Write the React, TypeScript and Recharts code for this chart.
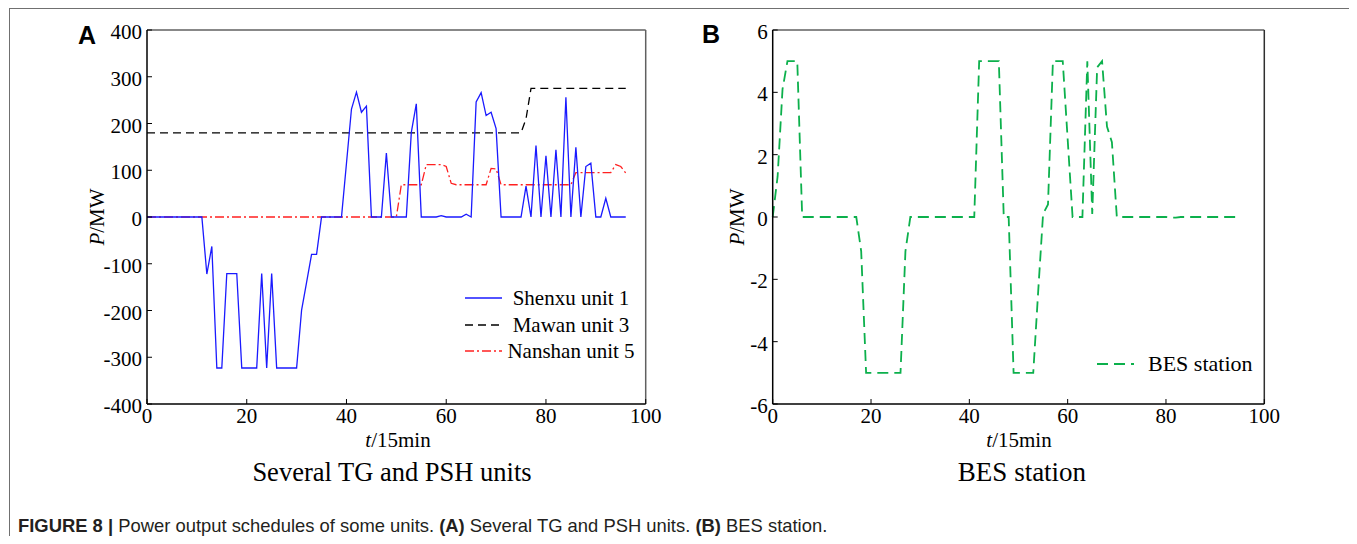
import React from 'react';
import { LineChart, Line, XAxis, YAxis, ReferenceLine } from 'recharts';

// ---------- data ----------
const shenxu = [
  0, 0, 0, 0, 0, 0, 0, 0, 0, 0, 0, 0, -122, -63, -323, -323, -121, -121, -121, -323,
  -323, -323, -323, -121, -323, -121, -323, -323, -323, -323, -323, -199, -140, -80, -80, 0, 0, 0, 0, 0,
  115, 231, 267, 224, 237, 0, 0, 0, 137, 0, 0, 0, 0, 181, 242, 0, 0, 0, 0, 3,
  0, 0, 0, 0, 6, 0, 246, 266, 217, 224, 189, 0, 0, 0, 0, 0, 66, 0, 153, 0,
  131, 0, 144, 0, 256, 0, 149, 0, 108, 115, 0, 0, 40, 0, 0, 0, 0,
];
const mawan = [
  180, 180, 180, 180, 180, 180, 180, 180, 180, 180, 180, 180, 180, 180, 180, 180, 180, 180, 180, 180,
  180, 180, 180, 180, 180, 180, 180, 180, 180, 180, 180, 180, 180, 180, 180, 180, 180, 180, 180, 180,
  180, 180, 180, 180, 180, 180, 180, 180, 180, 180, 180, 180, 180, 180, 180, 180, 180, 180, 180, 180,
  180, 180, 180, 180, 180, 180, 180, 180, 180, 180, 180, 180, 180, 180, 180, 180, 210, 275, 275, 275,
  275, 275, 275, 275, 275, 275, 275, 275, 275, 275, 275, 275, 275, 275, 275, 275, 275,
];
const nanshan = [
  0, 0, 0, 0, 0, 0, 0, 0, 0, 0, 0, 0, 0, 0, 0, 0, 0, 0, 0, 0,
  0, 0, 0, 0, 0, 0, 0, 0, 0, 0, 0, 0, 0, 0, 0, 0, 0, 0, 0, 0,
  0, 0, 0, 0, 0, 0, 0, 0, 0, 0, 0, 69, 69, 69, 69, 69, 112, 112, 112, 112,
  108, 72, 69, 69, 69, 69, 69, 69, 69, 104, 103, 69, 69, 69, 69, 69, 69, 69, 69, 69,
  69, 69, 69, 69, 69, 69, 95, 95, 95, 95, 95, 95, 95, 95, 112, 108, 94,
];
const bes = [
  0, 1.3, 4.1, 5, 5, 5, 0, 0, 0, 0, 0, 0, 0, 0, 0, 0, 0, 0, -1.1, -5,
  -5, -5, -5, -5, -5, -5, -5, -1.1, 0, 0, 0, 0, 0, 0, 0, 0, 0, 0, 0, 0,
  0, 0, 5, 5, 5, 5, 5, 0, 0, -5, -5, -5, -5, -5, -2.4, 0.1, 0.4, 5, 5, 5,
  2.5, 0, 0, 0, 5, 0.1, 4.8, 5, 2.9, 2.4, 0, 0, 0, 0, 0, 0, 0, 0, 0, 0,
  0, -0.02, -0.02, 0, 0, 0, 0, 0, 0, 0, 0, 0, 0, 0, 0, 0,
];
const xTicks = [0, 20, 40, 60, 80, 100];
const yTicksA = [-400, -300, -200, -100, 0, 100, 200, 300, 400];
const yTicksB = [-6, -4, -2, 0, 2, 4, 6];
const seriesNamesA = ['Shenxu unit 1', 'Mawan unit 3', 'Nanshan unit 5'];
const seriesNameB = 'BES station';

const rowsA = shenxu.map((v, i) => ({ t: i, shenxu: v, mawan: mawan[i], nanshan: nanshan[i] }));
const rowsB = bes.map((v, i) => ({ t: i, bes: v }));

// ---------- styles ----------
const SERIF = '"Liberation Serif", "Times New Roman", serif';
const SANS = '"Liberation Sans", Arial, sans-serif';
const TICK_IN = 5;
const MARGIN = 5;
const BLUE = '#1a1aff';
const RED = '#ff2020';
const GREEN = '#0cb04c';

const YTick = (props: any) => {
  const { x, y, payload } = props;
  const ax = x + MARGIN;
  return (
    <g>
      <line x1={ax} x2={ax + TICK_IN} y1={y} y2={y} stroke="#000" strokeWidth={1} />
      <text x={x} y={y} dy={9} textAnchor="end" fontFamily={SERIF} fontSize={21} fill="#000">
        {payload.value}
      </text>
    </g>
  );
};

const XTick = (props: any) => {
  const { x, y, payload } = props;
  const ay = y - MARGIN;
  return (
    <g>
      <line x1={x} x2={x} y1={ay} y2={ay - TICK_IN} stroke="#000" strokeWidth={1} />
      <text x={x} y={y} dy={13.5} textAnchor="middle" fontFamily={SERIF} fontSize={21} fill="#000">
        {payload.value}
      </text>
    </g>
  );
};

export default function App() {
  return (
    <div style={{ position: 'relative', width: 1357, height: 544, margin: -8, background: '#fff', overflow: 'hidden' }}>
      {/* outer frame */}
      <div style={{ position: 'absolute', left: 9, top: 8, width: 1346, height: 534, border: '1.5px solid #707070', boxSizing: 'border-box' }} />

      {/* Panel A */}
      <div style={{ position: 'absolute', left: 0, top: 0 }}>
        <LineChart width={680} height={544} data={rowsA} margin={{ top: 30, right: 34.3, bottom: 110, left: 0 }}>
          <XAxis
            dataKey="t"
            type="number"
            domain={[0, 100]}
            ticks={xTicks}
            interval={0}
            height={30}
            tickSize={0}
            tickMargin={MARGIN}
            tick={<XTick />}
            axisLine={{ stroke: '#000', strokeWidth: 1.5 }}
          />
          <YAxis
            type="number"
            domain={[-400, 400]}
            ticks={yTicksA}
            interval={0}
            width={147}
            tickSize={0}
            tickMargin={MARGIN}
            tick={<YTick />}
            axisLine={{ stroke: '#000', strokeWidth: 1.5 }}
          />
          <ReferenceLine y={400} stroke="#606060" strokeWidth={1.5} />
          <ReferenceLine x={100} stroke="#606060" strokeWidth={1.5} />
          <Line dataKey="mawan" name={seriesNamesA[1]} stroke="#000" strokeWidth={1.3} strokeDasharray="8 5" dot={false} isAnimationActive={false} />
          <Line dataKey="nanshan" name={seriesNamesA[2]} stroke={RED} strokeWidth={1.3} strokeDasharray="9 3 2 3" dot={false} isAnimationActive={false} />
          <Line dataKey="shenxu" name={seriesNamesA[0]} stroke={BLUE} strokeWidth={1.3} dot={false} isAnimationActive={false} />
        </LineChart>
      </div>

      {/* Panel B */}
      <div style={{ position: 'absolute', left: 680, top: 0 }}>
        <LineChart width={677} height={544} data={rowsB} margin={{ top: 30, right: 92.7, bottom: 110, left: 0 }}>
          <XAxis
            dataKey="t"
            type="number"
            domain={[0, 100]}
            ticks={xTicks}
            interval={0}
            height={30}
            tickSize={0}
            tickMargin={MARGIN}
            tick={<XTick />}
            axisLine={{ stroke: '#000', strokeWidth: 1.5 }}
          />
          <YAxis
            type="number"
            domain={[-6, 6]}
            ticks={yTicksB}
            interval={0}
            width={92.7}
            tickSize={0}
            tickMargin={MARGIN}
            tick={<YTick />}
            axisLine={{ stroke: '#000', strokeWidth: 1.5 }}
          />
          <ReferenceLine y={6} stroke="#606060" strokeWidth={1.5} />
          <ReferenceLine x={100} stroke="#303030" strokeWidth={1.5} />
          <Line dataKey="bes" name={seriesNameB} stroke={GREEN} strokeWidth={1.8} strokeDasharray="11 6" dot={false} isAnimationActive={false} />
        </LineChart>
      </div>

      {/* text overlay */}
      <svg width={1357} height={544} style={{ position: 'absolute', left: 0, top: 0, pointerEvents: 'none' }}>
        <text x={78} y={44} fontFamily={SANS} fontWeight="bold" fontSize={25} fill="#000">A</text>
        <text x={702} y={43} fontFamily={SANS} fontWeight="bold" fontSize={25} fill="#000">B</text>

        {/* y labels */}
        <text transform="translate(104,217) rotate(-90)" textAnchor="middle" fontFamily={SERIF} fontSize={21} fill="#000">
          <tspan fontStyle="italic">P</tspan>/MW
        </text>
        <text transform="translate(744,217) rotate(-90)" textAnchor="middle" fontFamily={SERIF} fontSize={21} fill="#000">
          <tspan fontStyle="italic">P</tspan>/MW
        </text>

        {/* x labels */}
        <text x={398} y={447} textAnchor="middle" fontFamily={SERIF} fontSize={21} fill="#000">
          <tspan fontStyle="italic">t</tspan>/15min
        </text>
        <text x={1019} y={447} textAnchor="middle" fontFamily={SERIF} fontSize={21} fill="#000">
          <tspan fontStyle="italic">t</tspan>/15min
        </text>

        {/* subtitles */}
        <text x={392} y={481} textAnchor="middle" fontFamily={SERIF} fontSize={26.5} fill="#000">Several TG and PSH units</text>
        <text x={1022} y={481} textAnchor="middle" fontFamily={SERIF} fontSize={27} fill="#000">BES station</text>

        {/* legend A */}
        <line x1={465} x2={502} y1={298} y2={298} stroke={BLUE} strokeWidth={1.3} />
        <text x={571} y={305} textAnchor="middle" fontFamily={SERIF} fontSize={21} fill="#000">{seriesNamesA[0]}</text>
        <line x1={465} x2={502} y1={325} y2={325} stroke="#000" strokeWidth={1.3} strokeDasharray="8 5" />
        <text x={571} y={332} textAnchor="middle" fontFamily={SERIF} fontSize={21} fill="#000">{seriesNamesA[1]}</text>
        <line x1={465} x2={502} y1={351} y2={351} stroke={RED} strokeWidth={1.3} strokeDasharray="9 3 2 3" />
        <text x={571} y={358} textAnchor="middle" fontFamily={SERIF} fontSize={21} fill="#000">{seriesNamesA[2]}</text>

        {/* legend B */}
        <line x1={1097} x2={1134} y1={364} y2={364} stroke={GREEN} strokeWidth={1.8} strokeDasharray="11 6" />
        <text x={1148} y={371} fontFamily={SERIF} fontSize={22} fill="#000">{seriesNameB}</text>
      </svg>

      {/* caption */}
      <div style={{ position: 'absolute', left: 18, top: 516, fontFamily: SANS, fontSize: 18.4, lineHeight: '20px', color: '#231f20', whiteSpace: 'nowrap' }}>
        <b>FIGURE 8 |</b> Power output schedules of some units. <b>(A)</b> Several TG and PSH units. <b>(B)</b> BES station.
      </div>
    </div>
  );
}
